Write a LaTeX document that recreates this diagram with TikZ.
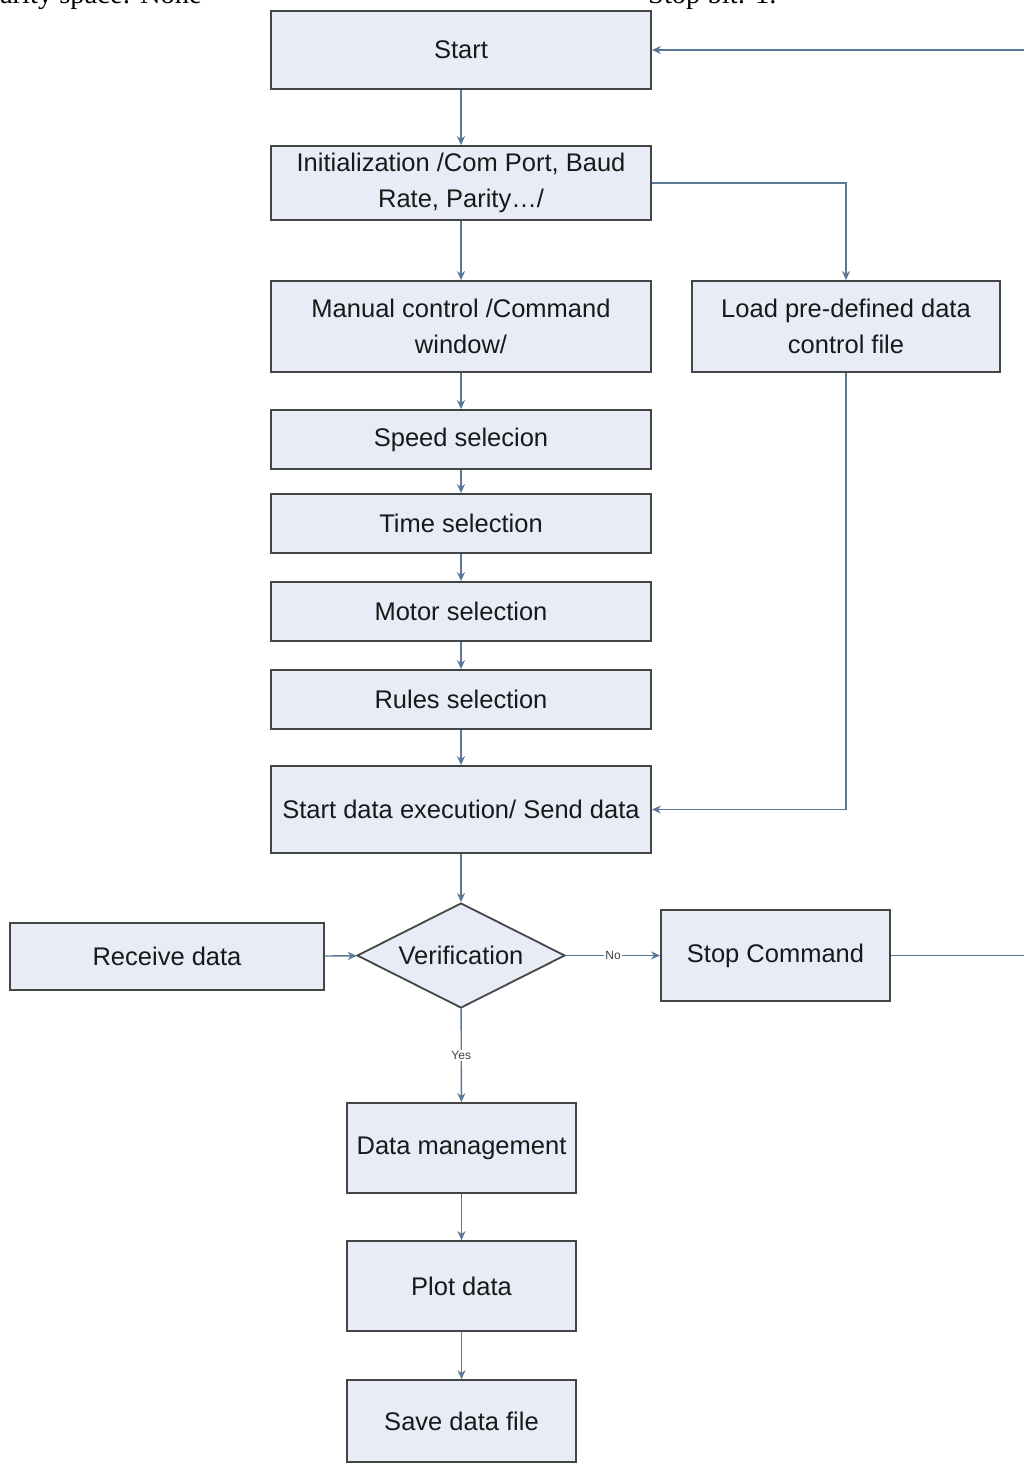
\documentclass[tikz,border=0pt]{standalone}
\usepackage{fontspec}
\setmainfont{Liberation Sans}
\newfontfamily\serifhead{Liberation Serif}
\usetikzlibrary{shapes.geometric,arrows.meta}
\definecolor{boxfill}{HTML}{E7ECF6}
\definecolor{boxline}{HTML}{454545}
\definecolor{arrowcol}{HTML}{5A7896}
\tikzset{
  fbox/.style={draw=boxline, fill=boxfill, line width=1.8pt, inner sep=0pt, align=center,
    font=\fontsize{25.5}{36}\selectfont, text=black!90},
  decide/.style={diamond, aspect=2, draw=boxline, fill=boxfill, line width=1.8pt, inner sep=0pt,
    minimum width=208pt, minimum height=105pt, font=\fontsize{25.5}{36}\selectfont, text=black!90},
  conn/.style={draw=arrowcol, line width=1.4pt, -{Stealth[length=9pt,width=8pt]}},
  lbl/.style={fill=white, inner sep=1pt, font=\fontsize{12}{14}\selectfont, text=black!75},
  toptext/.style={anchor=base west, inner sep=0pt, font=\serifhead\fontsize{28.5}{30}\selectfont}
}
\begin{document}
\begin{tikzpicture}[x=1pt,y=-1pt]
\useasboundingbox (0,0) rectangle (1024,1463);
\begin{scope}
\clip (0,0) rectangle (1024,1463);
\node[toptext] (t1) at (-16,4) {Parity space: None};
\node[toptext] (t2) at (648,4) {Stop bit: 1.};

\node[fbox, minimum width=380pt, minimum height=78pt] (start) at (461,50) {Start};
\node[fbox, minimum width=380pt, minimum height=74pt] (init) at (461,183) {Initialization /Com Port, Baud\\Rate, Parity…/};
\node[fbox, minimum width=380pt, minimum height=91pt] (manual) at (461,326.5) {Manual control /Command\\window/};
\node[fbox, minimum width=308pt, minimum height=91pt] (load) at (846,326.5) {Load pre-defined data\\control file};
\node[fbox, minimum width=380pt, minimum height=59pt] (speed) at (461,439.5) {Speed selecion};
\node[fbox, minimum width=380pt, minimum height=59pt] (time) at (461,523.5) {Time selection};
\node[fbox, minimum width=380pt, minimum height=59pt] (motor) at (461,611.5) {Motor selection};
\node[fbox, minimum width=380pt, minimum height=59pt] (rules) at (461,699.5) {Rules selection};
\node[fbox, minimum width=380pt, minimum height=87pt] (exec) at (461,809.5) {Start data execution/ Send data};
\node[decide] (verif) at (461,955.5) {Verification};
\node[fbox, minimum width=314pt, minimum height=67pt] (recv) at (167,956.5) {Receive data};
\node[fbox, minimum width=229pt, minimum height=91pt] (stop) at (775.5,955.5) {Stop Command};
\node[fbox, minimum width=229pt, minimum height=90pt] (dman) at (461.5,1148) {Data management};
\node[fbox, minimum width=229pt, minimum height=90pt] (plot) at (461.5,1286) {Plot data};
\node[fbox, minimum width=229pt, minimum height=82pt] (save) at (461.5,1421) {Save data file};

\coordinate (loopA) at (1045,955.5);
\coordinate (loopB) at (1045,50);

\draw[conn] (start) -- (init);
\draw[conn] (init) -- (manual);
\draw[conn] (manual) -- (speed);
\draw[conn] (speed) -- (time);
\draw[conn] (time) -- (motor);
\draw[conn] (motor) -- (rules);
\draw[conn] (rules) -- (exec);
\draw[conn] (exec) -- (verif);
\draw[conn] (init.east) -| (load.north);
\draw[conn] (load.south) |- (exec.east);
\draw[conn] (recv) -- (verif);
\draw[conn] (verif) -- node[lbl] (no) {No} (stop);
\draw[conn] (verif) -- node[lbl, pos=0.5] (yes) {Yes} (dman);
\draw[conn] (dman) -- (plot);
\draw[conn] (plot) -- (save);
\draw[conn] (stop.east) -- (loopA) -- (loopB) -- (start.east);
\end{scope}
\end{tikzpicture}
\end{document}
